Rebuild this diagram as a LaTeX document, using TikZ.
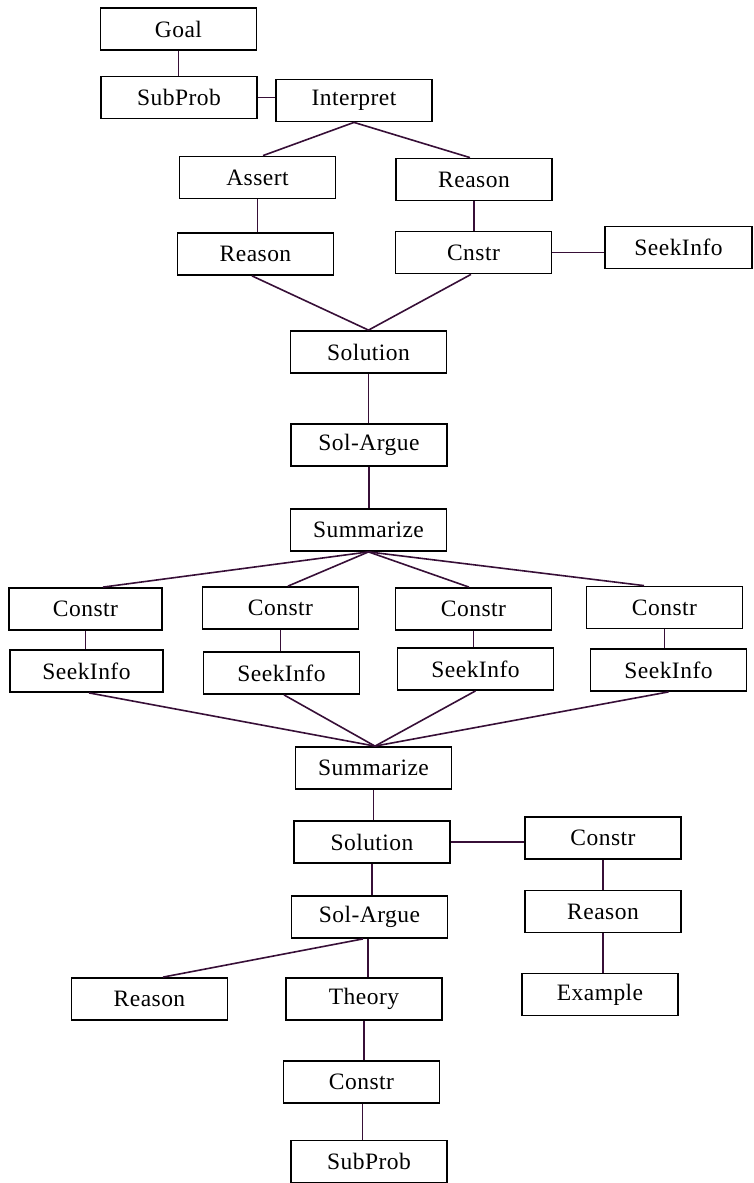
\documentclass[tikz,border=0pt]{standalone}
\usepackage{fontspec}
\setmainfont{Liberation Serif}[LetterSpace=2]
\begin{document}
\begin{tikzpicture}[x=1pt,y=-1pt,
  box/.style={draw=black,line width=1.8pt,fill=white,minimum width=156pt,minimum height=42pt,
    inner sep=0pt,font=\fontsize{23.5}{25}\selectfont},
  link/.style={draw={rgb,255:red,55;green,15;blue,55},line width=1.6pt}]
\useasboundingbox (0,0) rectangle (754,1183);
% upper part
\node[box] (goal)    at (178.5,29)   {Goal};
\node[box] (sub1)    at (179,97.5)   {SubProb};
\node[box] (interp)  at (354,100.5)  {Interpret};
\node[box] (assert)  at (257.5,177.5){Assert};
\node[box] (reasA)   at (474,179.5)  {Reason};
\node[box] (reasB)   at (255.5,254)  {Reason};
\node[box] (cnstr)   at (473.5,252.5){Cnstr};
\node[box,minimum width=147pt] (seek0) at (678.5,247.5) {SeekInfo};
\node[box] (sol1)    at (368.5,352)  {Solution};
\node[box] (arg1)    at (369,445)    {Sol-Argue};
\node[box] (sum1)    at (368.5,530)  {Summarize};
% middle row of four branches
\node[box,minimum width=153pt] (c1) at (85.5,609)  {Constr};
\node[box] (c2) at (280.5,608)  {Constr};
\node[box] (c3) at (473.5,609)  {Constr};
\node[box] (c4) at (664.5,607.5){Constr};
\node[box,minimum width=153pt] (s1) at (86.5,671)  {SeekInfo};
\node[box] (s2) at (281.5,673)  {SeekInfo};
\node[box] (s3) at (475.5,669)  {SeekInfo};
\node[box] (s4) at (668.5,670)  {SeekInfo};
% lower part
\node[box] (sum2)    at (373.5,768)  {Summarize};
\node[box] (sol2)    at (372,842)    {Solution};
\node[box] (arg2)    at (369.5,917)  {Sol-Argue};
\node[box] (consR)   at (603,838)    {Constr};
\node[box] (reasR)   at (603,911.5)  {Reason};
\node[box] (example) at (600,994.5)  {Example};
\node[box] (reasL)   at (149.5,999)  {Reason};
\node[box] (theory)  at (364,999)    {Theory};
\node[box] (cons3)   at (361.5,1082) {Constr};
\node[box] (sub2)    at (369,1161.5) {SubProb};

% connectors
\draw[link] (goal.south) -- (goal.south |- sub1.north);
\draw[link] (sub1.east) -- (sub1.east -| interp.west);
\draw[link] (interp.south) -- ([xshift=5.5pt]assert.north);
\draw[link] (interp.south) -- ([xshift=-4pt]reasA.north);
\draw[link] (assert.south) -- (assert.south |- reasB.north);
\draw[link] (reasA.south) -- (reasA.south |- cnstr.north);
\draw[link] (cnstr.east) -- (cnstr.east -| seek0.west);
\draw[link] ([xshift=-3.5pt]reasB.south) -- (sol1.north);
\draw[link] ([xshift=-2.5pt]cnstr.south) -- (sol1.north);
\draw[link] (sol1.south) -- (sol1.south |- arg1.north);
\draw[link] (arg1.south) -- (arg1.south |- sum1.north);
\draw[link] (sum1.south) -- ([xshift=17.5pt]c1.north);
\draw[link] (sum1.south) -- ([xshift=7.5pt]c2.north);
\draw[link] (sum1.south) -- ([xshift=-4.5pt]c3.north);
\draw[link] (sum1.south) -- ([xshift=-20.5pt]c4.north);
\draw[link] (c1.south) -- (c1.south |- s1.north);
\draw[link] (c2.south) -- (c2.south |- s2.north);
\draw[link] (c3.south) -- (c3.south |- s3.north);
\draw[link] (c4.south) -- (c4.south |- s4.north);
\draw[link] ([xshift=2.5pt]s1.south) -- ([xshift=1.5pt]sum2.north);
\draw[link] ([xshift=2.5pt]s2.south) -- ([xshift=1.5pt]sum2.north);
\draw[link] (s3.south) -- ([xshift=1.5pt]sum2.north);
\draw[link] (s4.south) -- ([xshift=1.5pt]sum2.north);
\draw[link] (sum2.south) -- (sum2.south |- sol2.north);
\draw[link] (sol2.south) -- (sol2.south |- arg2.north);
\draw[link] (sol2.east) -- (sol2.east -| consR.west);
\draw[link] (consR.south) -- (consR.south |- reasR.north);
\draw[link] (reasR.south) -- (reasR.south |- example.north);
\draw[link] ([xshift=-6.5pt]arg2.south) -- ([xshift=13.5pt]reasL.north);
\draw[link] ([xshift=-1.5pt]arg2.south) -- ([xshift=-1.5pt]arg2.south |- theory.north);
\draw[link] (theory.south) -- (theory.south |- cons3.north);
\draw[link] ([xshift=1pt]cons3.south) -- ([xshift=1pt]cons3.south |- sub2.north);
\end{tikzpicture}
\end{document}
